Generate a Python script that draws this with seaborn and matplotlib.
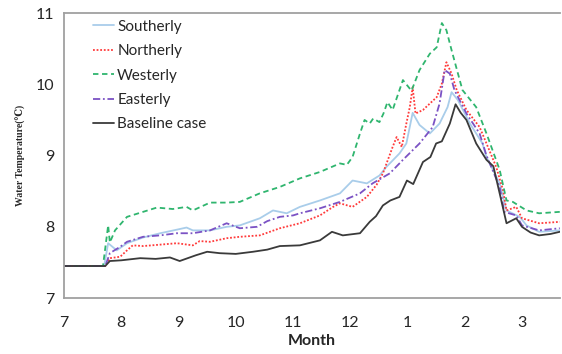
import numpy as np
import pandas as pd
import matplotlib
matplotlib.use("Agg")
import matplotlib.pyplot as plt
import seaborn as sns

# ---- data (month index: 0 = July ... 8 = March) ----
month_ticks = [0, 1, 2, 3, 4, 5, 6, 7, 8]
month_labels = ["7", "8", "9", "10", "11", "12", "1", "2", "3"]

south_x = [0, 0.7, 0.77, 0.92, 1.1, 1.38, 1.68, 1.97, 2.14, 2.25, 2.55, 2.84, 3.07, 3.42, 3.65, 3.89, 4.12, 4.47, 4.82, 5.04, 5.29, 5.51, 5.63, 5.86, 5.98, 6.09, 6.21, 6.39, 6.56, 6.7, 6.77, 6.88, 7.09, 7.31, 7.38, 7.61, 7.73, 7.96, 8.08, 8.3, 8.66]
south_y = [7.45, 7.45, 7.77, 7.67, 7.77, 7.85, 7.91, 7.96, 7.99, 7.95, 7.95, 8.0, 8.02, 8.12, 8.23, 8.19, 8.28, 8.37, 8.47, 8.65, 8.61, 8.72, 8.84, 9.03, 9.17, 9.6, 9.43, 9.31, 9.45, 9.68, 9.89, 9.78, 9.45, 9.17, 8.98, 8.61, 8.23, 8.14, 8.02, 7.93, 7.95]

north_x = [0, 0.72, 0.8, 0.98, 1.1, 1.2, 1.38, 1.68, 1.97, 2.25, 2.37, 2.55, 2.84, 3.07, 3.42, 3.77, 4.12, 4.47, 4.7, 4.82, 5.04, 5.29, 5.46, 5.57, 5.74, 5.81, 5.9, 5.98, 6.04, 6.09, 6.14, 6.27, 6.39, 6.51, 6.6, 6.68, 6.77, 6.86, 7.03, 7.26, 7.38, 7.55, 7.67, 7.73, 7.9, 8.0, 8.3, 8.66]
north_y = [7.45, 7.45, 7.56, 7.58, 7.67, 7.74, 7.73, 7.75, 7.77, 7.74, 7.8, 7.79, 7.84, 7.86, 7.88, 7.98, 8.05, 8.16, 8.28, 8.33, 8.28, 8.42, 8.59, 8.75, 9.12, 9.26, 9.12, 9.45, 9.68, 9.96, 9.59, 9.64, 9.73, 9.82, 10.01, 10.31, 10.15, 9.92, 9.64, 9.4, 9.17, 8.84, 8.51, 8.23, 8.28, 8.12, 8.05, 8.07]

west_x = [0, 0.68, 0.77, 0.8, 0.89, 1.1, 1.38, 1.62, 1.9, 2.14, 2.25, 2.55, 2.84, 3.07, 3.42, 3.77, 4.12, 4.47, 4.82, 4.94, 5.04, 5.17, 5.25, 5.34, 5.4, 5.51, 5.58, 5.65, 5.74, 5.92, 6.07, 6.21, 6.39, 6.51, 6.6, 6.68, 6.77, 6.96, 7.2, 7.38, 7.61, 7.73, 7.84, 8.08, 8.3, 8.66]
west_y = [7.45, 7.45, 8.02, 7.78, 7.95, 8.14, 8.21, 8.27, 8.25, 8.28, 8.23, 8.34, 8.34, 8.35, 8.47, 8.56, 8.68, 8.77, 8.89, 8.87, 8.98, 9.31, 9.5, 9.45, 9.52, 9.47, 9.59, 9.75, 9.64, 10.06, 9.91, 10.2, 10.43, 10.52, 10.86, 10.76, 10.48, 9.92, 9.68, 9.31, 8.8, 8.37, 8.35, 8.23, 8.19, 8.21]

east_x = [0, 0.72, 0.8, 0.98, 1.1, 1.38, 1.68, 1.97, 2.25, 2.55, 2.84, 3.07, 3.37, 3.55, 3.77, 4.0, 4.12, 4.47, 4.82, 5.17, 5.39, 5.69, 5.92, 6.21, 6.44, 6.56, 6.65, 6.74, 6.82, 7.03, 7.26, 7.38, 7.61, 7.69, 7.9, 8.0, 8.3, 8.66]
east_y = [7.45, 7.45, 7.63, 7.72, 7.79, 7.86, 7.88, 7.91, 7.91, 7.95, 8.05, 7.98, 8.0, 8.08, 8.14, 8.16, 8.19, 8.26, 8.35, 8.47, 8.61, 8.75, 8.94, 9.17, 9.4, 9.73, 10.2, 10.15, 9.92, 9.59, 9.31, 9.0, 8.56, 8.21, 8.16, 8.02, 7.95, 7.98]

base_x = [0, 0.72, 0.8, 1.0, 1.33, 1.6, 1.85, 2.02, 2.3, 2.5, 2.72, 3.0, 3.3, 3.55, 3.77, 4.12, 4.47, 4.68, 4.87, 5.17, 5.34, 5.45, 5.57, 5.7, 5.86, 5.99, 6.1, 6.27, 6.4, 6.5, 6.6, 6.74, 6.84, 6.93, 7.03, 7.2, 7.38, 7.5, 7.61, 7.73, 7.9, 8.0, 8.15, 8.3, 8.5, 8.66]
base_y = [7.45, 7.45, 7.52, 7.53, 7.56, 7.55, 7.57, 7.52, 7.6, 7.65, 7.63, 7.62, 7.65, 7.68, 7.73, 7.74, 7.81, 7.93, 7.88, 7.91, 8.07, 8.15, 8.3, 8.37, 8.42, 8.65, 8.6, 8.91, 8.98, 9.17, 9.2, 9.45, 9.72, 9.6, 9.5, 9.17, 8.94, 8.85, 8.47, 8.05, 8.12, 8.0, 7.92, 7.88, 7.9, 7.93]

case_names = ["Southerly", "Northerly", "Westerly", "Easterly", "Baseline case"]
series = [(south_x, south_y), (north_x, north_y), (west_x, west_y), (east_x, east_y), (base_x, base_y)]

frames = []
for name, (xs, ys) in zip(case_names, series):
    frames.append(pd.DataFrame({"m": xs, "T": ys, "case": name}))
df = pd.concat(frames, ignore_index=True)

palette = {"Southerly": "#a9cdea", "Northerly": "#ff3b3b", "Westerly": "#2fb56e",
           "Easterly": "#7b52c4", "Baseline case": "#3a3a3a"}
dashes = {"Southerly": "", "Northerly": (1, 1), "Westerly": (3, 2),
          "Easterly": (4, 1.5, 1, 1.5), "Baseline case": ""}

sns.set_style("white")
plt.rcParams["font.family"] = ["Lato", "DejaVu Sans"]

fig = plt.figure(figsize=(5.62, 3.54), dpi=100)
ax = fig.add_axes([0.114, 0.158, 0.882, 0.805])

sns.lineplot(data=df, x="m", y="T", hue="case", style="case", hue_order=case_names,
             style_order=case_names, palette=palette, dashes=dashes, sort=False,
             estimator=None, units="case", linewidth=1.3, ax=ax)

ax.set_xlim(0, 8.66)
ax.set_ylim(7, 11)
ax.set_xticks(month_ticks)
ax.set_xticklabels(month_labels)
ax.set_yticks([7, 8, 9, 10, 11])
ax.tick_params(axis="both", labelsize=11.5, direction="out", length=4, color="#999999", pad=3)
ax.tick_params(axis="x", pad=9)
for s in ["left", "bottom", "top"]:
    ax.spines[s].set_color("#a0a0a0")
    ax.spines[s].set_linewidth(1.3)
ax.spines["right"].set_visible(False)

ax.set_xlabel("Month", fontsize=11.5, fontweight="bold", labelpad=3)
ax.set_ylabel("Water Temperature(\u2103)", fontsize=7, fontweight="bold",
              family=["Liberation Serif", "DejaVu Serif"], labelpad=7)

leg = ax.legend(loc="upper left", bbox_to_anchor=(0.03, 1.025), frameon=False,
                fontsize=11, handlelength=1.4, handletextpad=0.2, labelspacing=0.68)
for line in leg.get_lines():
    line.set_linewidth(1.3)

fig.savefig("out.png", dpi=100)
